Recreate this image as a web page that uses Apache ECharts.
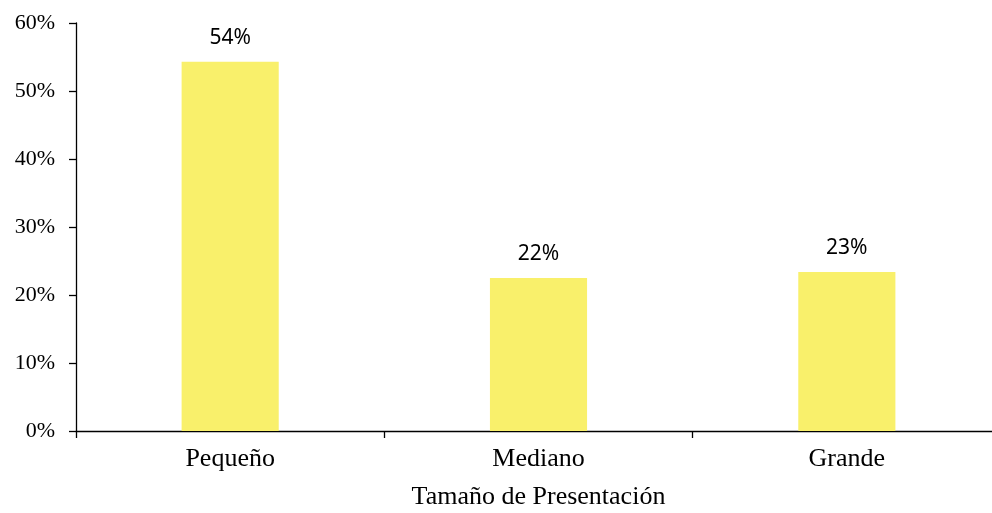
<!DOCTYPE html>
<html>
<head>
<meta charset="utf-8">
<script src="https://cdn.jsdelivr.net/npm/echarts@6/dist/echarts.min.js"></script>
<style>
  html, body { margin: 0; padding: 0; background: #ffffff; }
  #chart { width: 992px; height: 513px; }
</style>
</head>
<body>
<div id="chart"></div>
<script>
// Share of purchases by package size
const categories = ['Pequeño', 'Mediano', 'Grande'];
const shares = [54.3, 22.5, 23.4];
const shareLabels = ['54%', '22%', '23%'];
const axisTitle = 'Tamaño de Presentación';

const serif = '"Liberation Serif", "Times New Roman", serif';
const sans = '"Noto Sans", "Open Sans", sans-serif';

const chart = echarts.init(document.getElementById('chart'), null, { renderer: 'canvas' });

chart.setOption({
  backgroundColor: '#ffffff',
  animation: false,
  grid: {
    left: 76, top: 23, width: 925, height: 408,
    containLabel: false,
    outerBoundsMode: 'none'
  },
  xAxis: {
    type: 'category',
    data: categories,
    name: axisTitle,
    nameLocation: 'middle',
    nameGap: 53,
    nameTextStyle: { color: '#000', fontFamily: serif, fontSize: 26 },
    axisLine: { lineStyle: { color: '#000', width: 1.3 } },
    axisTick: { show: true, length: 7, alignWithLabel: false, lineStyle: { color: '#000', width: 1.3 } },
    axisLabel: { color: '#000', fontFamily: serif, fontSize: 26, margin: 15 }
  },
  yAxis: {
    type: 'value',
    min: 0,
    max: 60,
    interval: 10,
    axisLine: { show: true, lineStyle: { color: '#000', width: 1.3 } },
    axisTick: { show: true, length: 7, lineStyle: { color: '#000', width: 1.3 } },
    splitLine: { show: false },
    axisLabel: { color: '#000', fontFamily: serif, fontSize: 22, margin: 21, formatter: '{value}%' }
  },
  series: [{
    type: 'bar',
    data: shares,
    barWidth: '31.5%',
    itemStyle: { color: '#F9F06B' },
    label: {
      show: true,
      position: 'top',
      distance: 13,
      color: '#000',
      fontFamily: sans,
      fontSize: 21,
      formatter: p => shareLabels[p.dataIndex]
    }
  }]
});
</script>
</body>
</html>
